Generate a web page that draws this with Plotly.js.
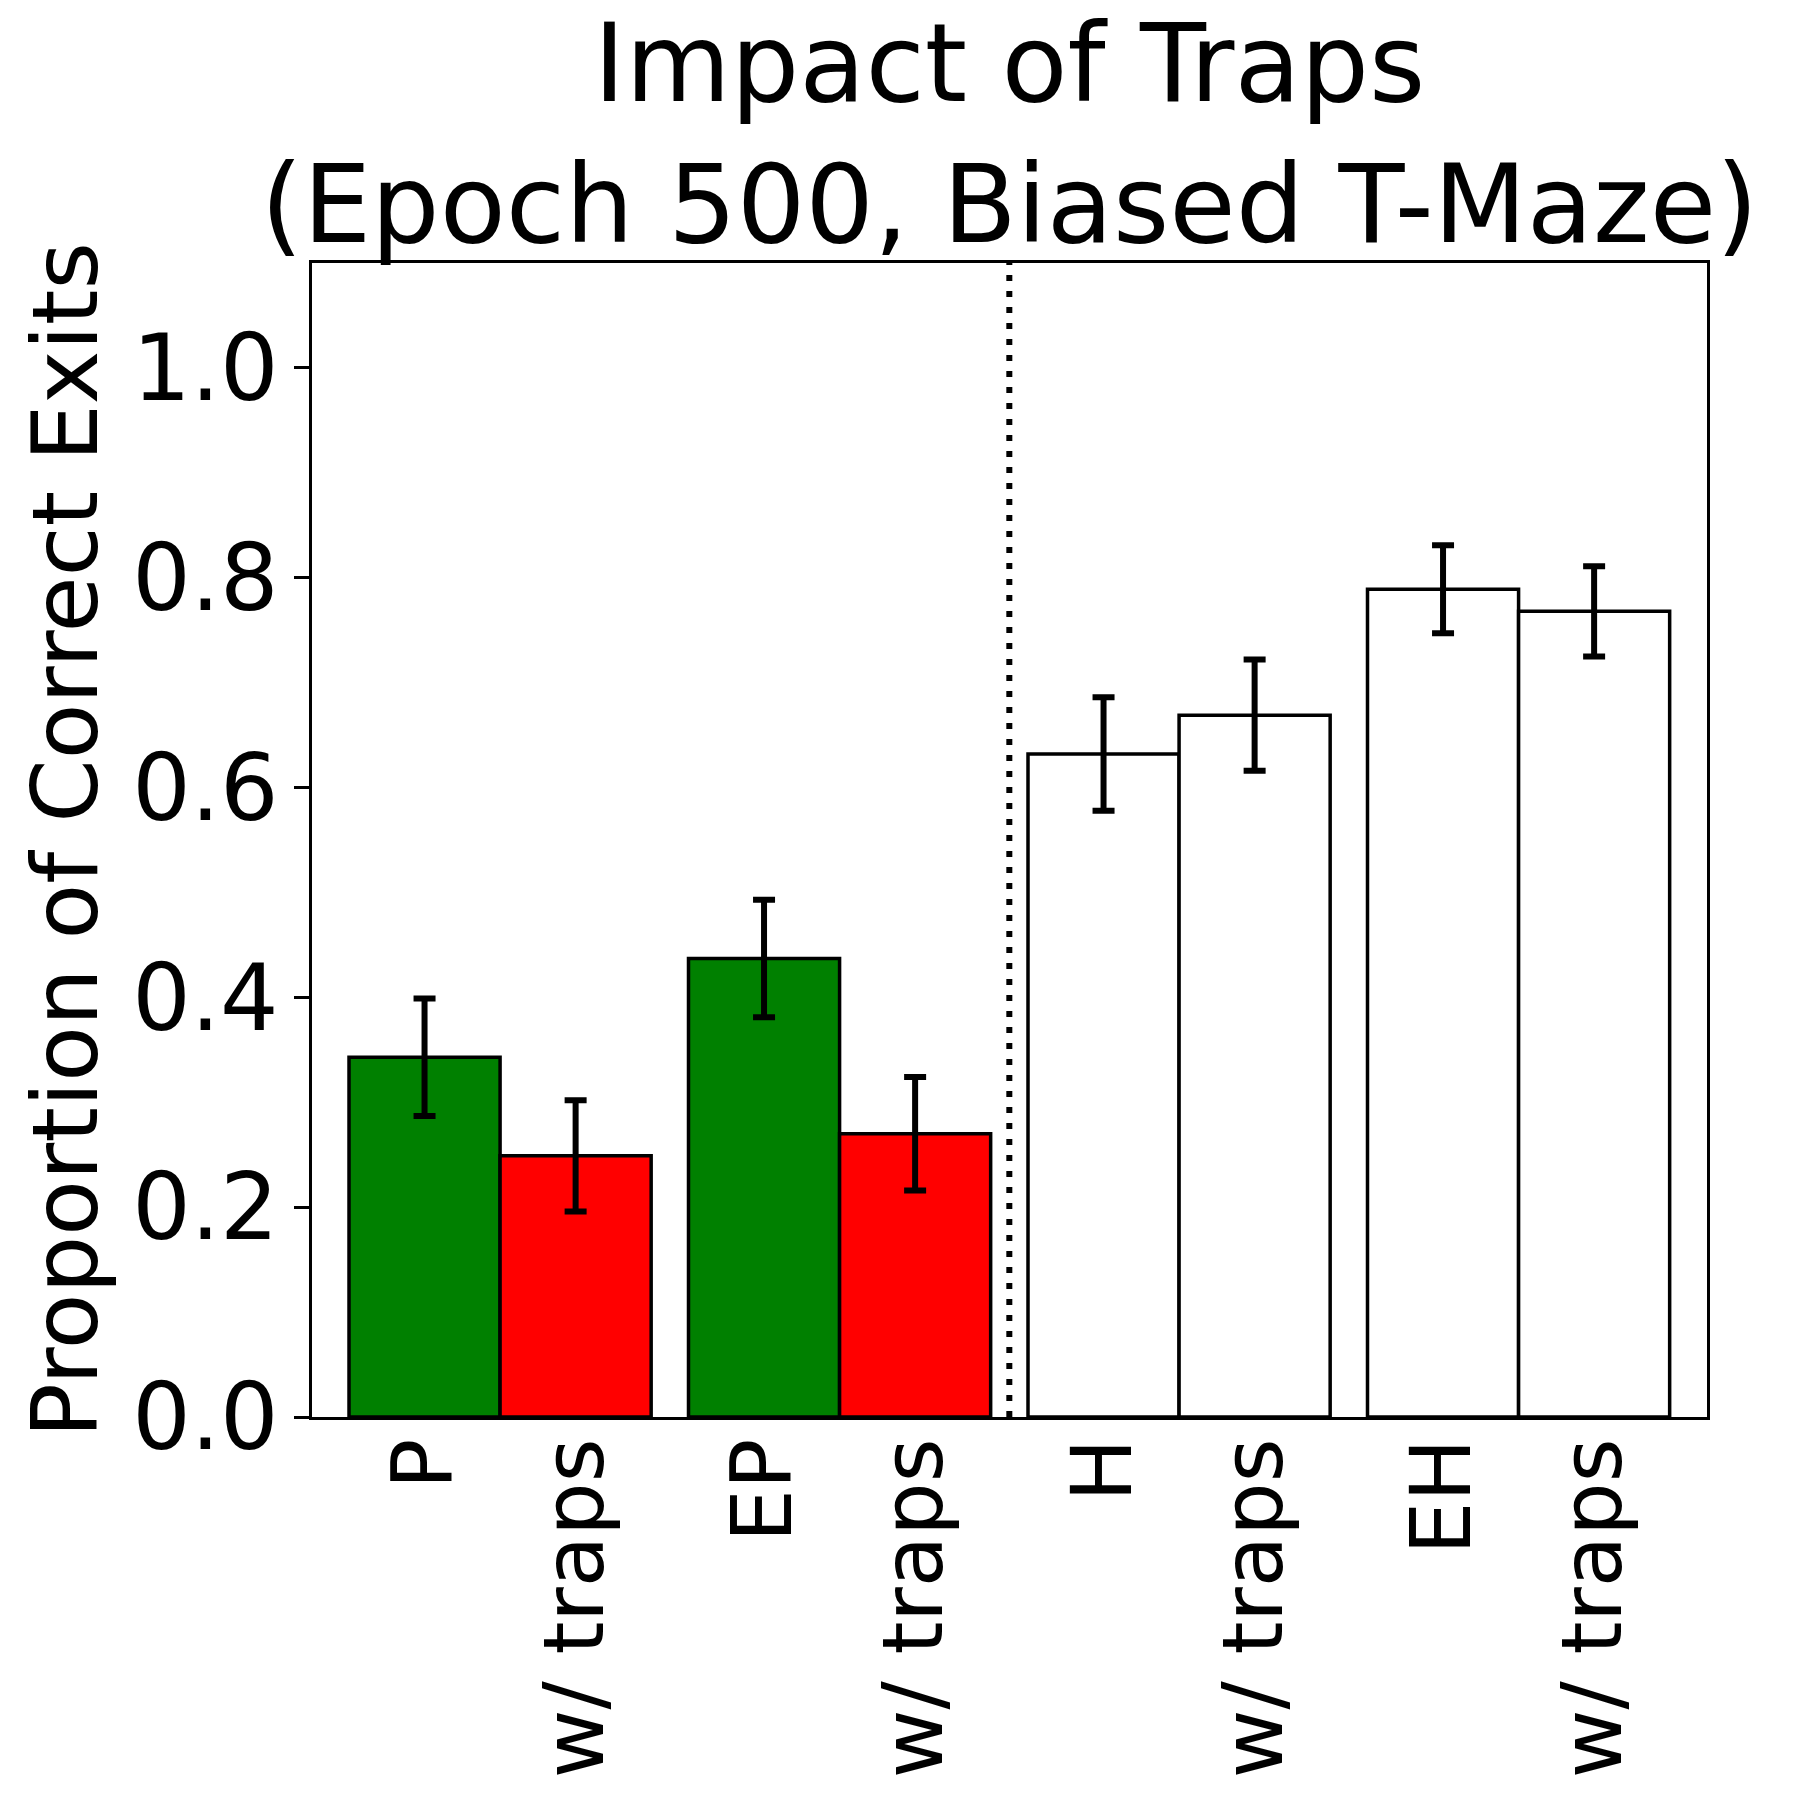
<!DOCTYPE html>
<html>
<head>
<meta charset="utf-8">
<script src="https://cdn.plot.ly/plotly-3.0.1.min.js"></script>
<style>
  html, body { margin: 0; padding: 0; background: #ffffff; }
  #chart { width: 1801px; height: 1806px; }
</style>
</head>
<body>
<div id="chart"></div>
<script>
// Groups of agents, each shown alone and with traps added
const groupLabels = [ 'P', 'EP', 'H', 'EH' ];
const trapLabel = 'w/ traps';

const baseMeans  = [ 0.343, 0.437, 0.632, 0.789 ];
const baseErrors = [ 0.056, 0.056, 0.054, 0.042 ];
const trapMeans  = [ 0.249, 0.270, 0.669, 0.768 ];
const trapErrors = [ 0.053, 0.054, 0.053, 0.043 ];

const yTicks = [ 0.0, 0.2, 0.4, 0.6, 0.8, 1.0 ];

// styling
const baseColors = [ '#008000', '#008000', '#ffffff', '#ffffff' ];
const trapColors = [ '#ff0000', '#ff0000', '#ffffff', '#ffffff' ];
const barWidth = 0.445;
const fontFamily = 'DejaVu Sans, Liberation Sans, sans-serif';

let baseX = groupLabels.map( ( g, i ) => i - barWidth / 2 );
let trapX = groupLabels.map( ( g, i ) => i + barWidth / 2 );

let tickVals = [];
let tickText = [];
for ( let i = 0; i < groupLabels.length; ++i ) {
    tickVals.push( baseX[ i ], trapX[ i ] );
    tickText.push( groupLabels[ i ], trapLabel );
}

function barTrace( x, y, err, colors ) {
    return {
        type: 'bar',
        x: x,
        y: y,
        width: barWidth,
        marker: { color: colors, line: { color: '#000000', width: 3.5 } },
        error_y: { type: 'data', array: err, visible: true, color: '#000000', thickness: 6, width: 11 },
        showlegend: false,
        hoverinfo: 'y'
    };
}

let data = [
    barTrace( baseX, baseMeans, baseErrors, baseColors ),
    barTrace( trapX, trapMeans, trapErrors, trapColors )
];

let layout = {
    width: 1801,
    height: 1806,
    margin: { l: 312, r: 94, t: 263, b: 389 },
    paper_bgcolor: '#ffffff',
    plot_bgcolor: '#ffffff',
    font: { family: fontFamily, size: 92, color: '#000000' },
    title: {
        text: 'Impact of Traps<br>(Epoch 500, Biased T-Maze)',
        font: { family: fontFamily, size: 108, color: '#000000' },
        x: 0.5,
        xref: 'paper',
        y: 0.944,
        yref: 'container',
        yanchor: 'top',
        pad: { t: 0 }
    },
    xaxis: {
        range: [ -0.554, 3.555 ],
        tickmode: 'array',
        tickvals: tickVals,
        ticktext: tickText,
        tickangle: -90,
        ticks: '',
        ticklabelstandoff: -15,
        showgrid: false,
        zeroline: false,
        showline: true,
        linecolor: '#000000',
        linewidth: 3,
        mirror: true,
        tickfont: { family: fontFamily, size: 84, color: '#000000' }
    },
    yaxis: {
        range: [ 0, 1.1 ],
        tickmode: 'array',
        tickvals: yTicks,
        tickformat: '.1f',
        ticks: 'outside',
        ticklen: 15,
        tickwidth: 3,
        tickcolor: '#000000',
        ticklabelstandoff: -3,
        showgrid: false,
        zeroline: false,
        showline: true,
        linecolor: '#000000',
        linewidth: 3,
        mirror: true,
        tickfont: { family: fontFamily, size: 92, color: '#000000' },
        title: {
            text: 'Proportion of Correct Exits',
            font: { family: fontFamily, size: 91, color: '#000000' },
            standoff: 5
        }
    },
    shapes: [ {
        type: 'line',
        xref: 'x',
        yref: 'paper',
        x0: 1.5,
        x1: 1.5,
        y0: 0,
        y1: 1,
        line: { color: '#000000', width: 6, dash: '6px,10px' }
    } ]
};

Plotly.newPlot( 'chart', data, layout, { displayModeBar: false, staticPlot: true } );
</script>
</body>
</html>
